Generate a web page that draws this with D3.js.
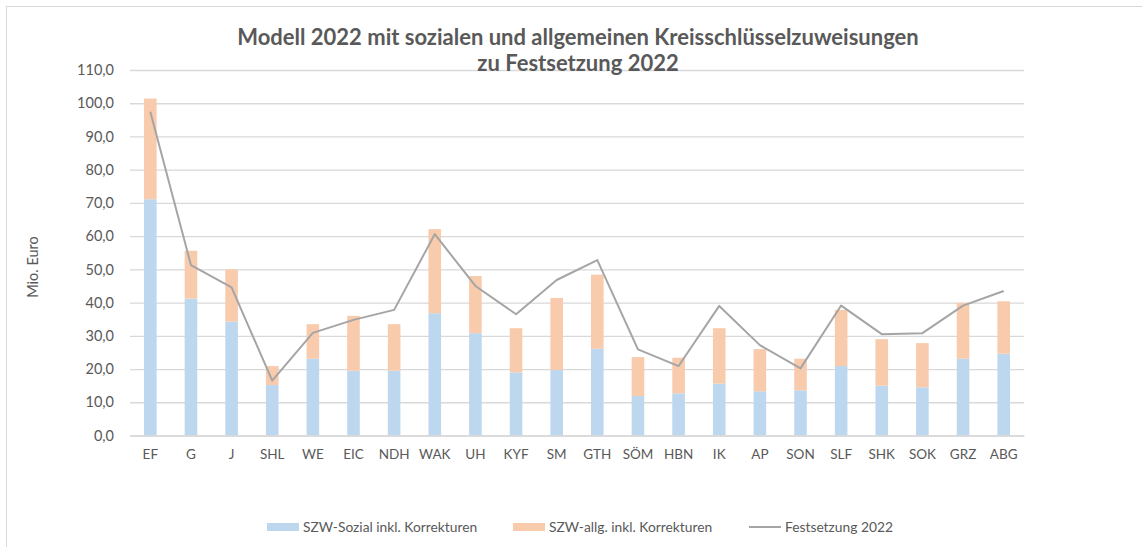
<!DOCTYPE html>
<html>
<head>
<meta charset="utf-8">
<script src="https://cdn.jsdelivr.net/npm/d3@7"></script>
<style>
  body { margin: 0; background: #fff; }
  text { font-family: Lato, "Open Sans", sans-serif; }
</style>
</head>
<body>
<svg id="chart" width="1142" height="547"></svg>
<script>
// Kreise
const categories = ["EF", "G", "J", "SHL", "WE", "EIC", "NDH", "WAK", "UH", "KYF", "SM", "GTH",
    "SÖM", "HBN", "IK", "AP", "SON", "SLF", "SHK", "SOK", "GRZ", "ABG"];

// SZW-Sozial inkl. Korrekturen (Mio. Euro)
const sozial = [71.1, 41.2, 34.3, 15.2, 23.1, 19.5, 19.5, 36.8, 30.8, 19.0, 19.7, 26.1,
    11.9, 12.7, 15.6, 13.3, 13.6, 20.9, 15.0, 14.5, 23.1, 24.6];

// SZW-allg. inkl. Korrekturen (Mio. Euro)
const allgemein = [30.3, 14.4, 15.7, 5.7, 10.4, 16.5, 14.0, 25.3, 17.2, 13.3, 21.7, 22.3,
    11.7, 10.7, 16.7, 12.7, 9.5, 16.9, 14.0, 13.3, 16.8, 15.8];

// Festsetzung 2022 (Mio. Euro)
const festsetzung = [97.4, 51.3, 44.6, 16.5, 30.9, 34.8, 37.8, 60.6, 45.0, 36.5, 46.8, 52.8,
    25.9, 20.9, 39.0, 27.2, 20.2, 39.1, 30.5, 30.8, 39.1, 43.5];

const yTicks = d3.range(0, 111, 10);

const seriesNames = ["SZW-Sozial inkl. Korrekturen", "SZW-allg. inkl. Korrekturen", "Festsetzung 2022"];
const colours = { sozial: "#bdd7ee", allg: "#f8cbad", line: "#a5a5a5", grid: "#d9d9d9", text: "#595959" };

const svg = d3.select("#chart");

// chart frame (Excel style border)
svg.append("rect")
    .attr("x", 6.5).attr("y", 6.5)
    .attr("width", 1140).attr("height", 545)
    .attr("fill", "none")
    .attr("stroke", colours.grid);

const plotLeft = 130, plotRight = 1024, plotTop = 70, plotBottom = 435.5;

const x = d3.scaleBand()
    .domain(categories)
    .range([plotLeft, plotRight])
    .paddingInner(0.69)
    .paddingOuter(0.345);

const y = d3.scaleLinear()
    .domain([0, 110])
    .range([plotBottom, plotTop]);

// gridlines
svg.append("g")
    .attr("transform", `translate(${plotLeft},0)`)
    .call(d3.axisLeft(y).tickValues(yTicks).tickSize(-(plotRight - plotLeft)).tickFormat(""))
    .call(g => g.select(".domain").remove())
    .call(g => g.selectAll("line").attr("stroke", colours.grid).attr("stroke-width", 1.3));

// y tick labels
svg.append("g")
    .attr("transform", `translate(${plotLeft},0)`)
    .call(d3.axisLeft(y).tickValues(yTicks).tickSize(0).tickPadding(16)
        .tickFormat(d => d3.format(".1f")(d).replace(".", ",")))
    .call(g => g.select(".domain").remove())
    .call(g => g.selectAll("text")
        .attr("fill", colours.text)
        .attr("font-size", 14.5)
        .style("font-family", "Lato, sans-serif"));

// stacked bars
const rows = categories.map((c, i) => ({ cat: c, sozial: sozial[i], allg: allgemein[i] }));
const stack = d3.stack().keys(["sozial", "allg"])(rows);

svg.append("g")
    .selectAll("g")
    .data(stack)
    .join("g")
    .attr("fill", d => colours[d.key])
    .selectAll("rect")
    .data(d => d)
    .join("rect")
    .attr("x", d => x(d.data.cat))
    .attr("y", d => y(d[1]))
    .attr("width", x.bandwidth())
    .attr("height", d => y(d[0]) - y(d[1]));

// x axis baseline & labels
svg.append("g")
    .attr("transform", `translate(0,${plotBottom})`)
    .call(d3.axisBottom(x).tickSize(0).tickPadding(14))
    .call(g => g.select(".domain").attr("stroke", colours.grid).attr("stroke-width", 1.3))
    .call(g => g.selectAll("text")
        .attr("fill", colours.text)
        .attr("font-size", 13.5)
        .style("font-family", "Lato, sans-serif"));

// Festsetzung line
const line = d3.line()
    .x((d, i) => x(categories[i]) + x.bandwidth() / 2)
    .y(d => y(d));

svg.append("path")
    .datum(festsetzung)
    .attr("fill", "none")
    .attr("stroke", colours.line)
    .attr("stroke-width", 2)
    .attr("stroke-linejoin", "round")
    .attr("d", line);

// title
const title = svg.append("text")
    .attr("text-anchor", "middle")
    .attr("fill", colours.text)
    .attr("font-size", 22)
    .attr("font-weight", "bold");
title.append("tspan").attr("x", 578).attr("y", 45)
    .text("Modell 2022 mit sozialen und allgemeinen Kreisschlüsselzuweisungen");
title.append("tspan").attr("x", 578).attr("y", 71)
    .text("zu Festsetzung 2022");

// y axis title
svg.append("text")
    .attr("transform", "translate(38,267) rotate(-90)")
    .attr("text-anchor", "middle")
    .attr("fill", colours.text)
    .attr("font-size", 14.5)
    .text("Mio. Euro");

// legend
const legendItems = [
    { name: seriesNames[0], type: "rect", colour: colours.sozial, x: 267 },
    { name: seriesNames[1], type: "rect", colour: colours.allg, x: 513 },
    { name: seriesNames[2], type: "line", colour: colours.line, x: 749 }
];

const legend = svg.append("g").attr("transform", "translate(0,527)");
const items = legend.selectAll("g")
    .data(legendItems)
    .join("g")
    .attr("transform", d => `translate(${d.x},0)`);

items.filter(d => d.type === "rect")
    .append("rect")
    .attr("x", 0).attr("y", -4)
    .attr("width", 32).attr("height", 8)
    .attr("fill", d => d.colour);

items.filter(d => d.type === "line")
    .append("line")
    .attr("x1", 0).attr("x2", 32)
    .attr("stroke", d => d.colour)
    .attr("stroke-width", 2);

items.append("text")
    .attr("x", 36)
    .attr("dy", "0.35em")
    .attr("fill", colours.text)
    .attr("font-size", 13.8)
    .text(d => d.name);
</script>
</body>
</html>
